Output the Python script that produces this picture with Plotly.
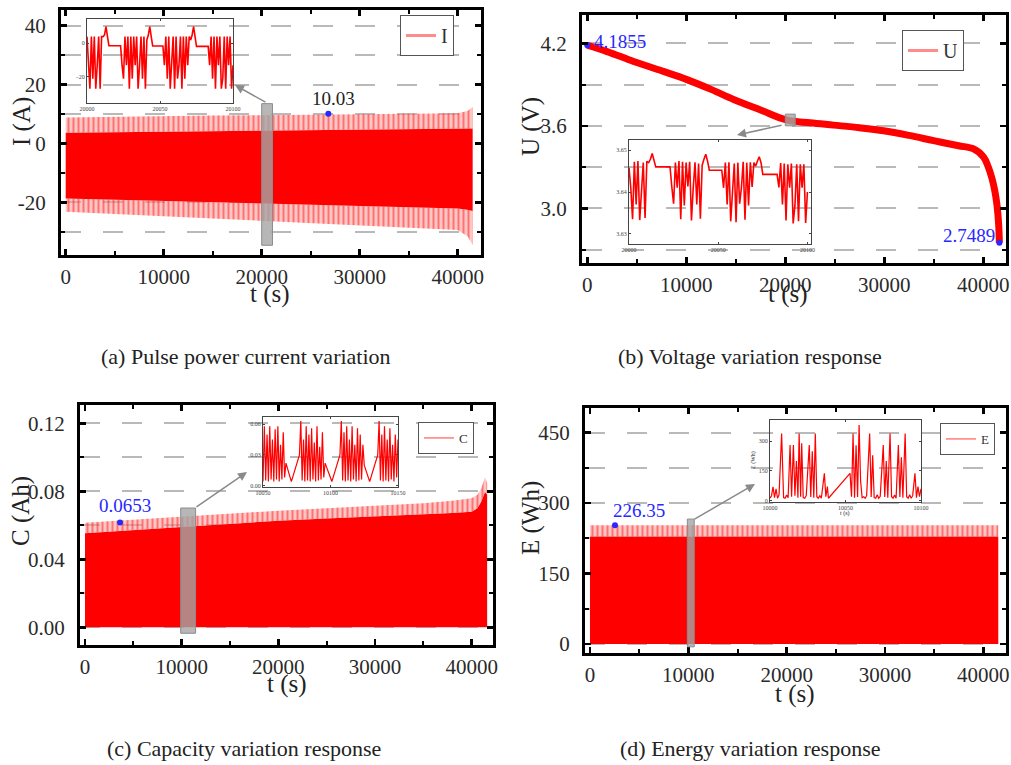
import plotly.graph_objects as go

W, H = 1011, 765
SERIF = "Liberation Serif"
RED = "rgb(255,0,0)"
PINK = "rgba(255,110,110,0.55)"
BLUE = "rgb(40,40,255)"

# ---------------- data ----------------
# (a) pulse current: envelope of the dense signal
t_env_a = [0, 5000, 10000, 15000, 20000, 25000, 30000, 35000, 40000, 41000, 41530]
i_outer_top = [8.8, 9.1, 9.3, 9.5, 9.6, 9.8, 9.9, 10.0, 10.2, 11.0, 12.4]
i_core_top = [3.6, 3.8, 4.0, 4.2, 4.3, 4.5, 4.7, 4.9, 5.0, 5.1, 5.1]
i_core_bot = [-18.7, -19.1, -19.6, -20.0, -20.4, -20.8, -21.2, -21.6, -22.1, -22.5, -23.0]
i_outer_bot = [-23.2, -24.0, -24.8, -25.6, -26.3, -27.0, -27.8, -28.6, -29.4, -31.5, -34.5]
i_mark_t, i_mark_v = [26800], [10.03]
i_ticks = [-20, 0, 20, 40]
i_ticktext = ["-20", "0", "20", "40"]

# (b) voltage
t_u = [0, 2000, 4680, 7500, 10070, 12500, 14780, 17500, 20100, 22500, 24880, 27500,
       29930, 32500, 34980, 37500, 39020, 40030, 40500, 40880, 41150, 41380, 41550, 41620]
u_vals = [4.186, 4.14, 4.068, 4.00, 3.936, 3.865, 3.792, 3.715, 3.643, 3.622, 3.605, 3.586,
          3.564, 3.530, 3.492, 3.455, 3.432, 3.372, 3.30, 3.216, 3.13, 3.024, 2.88, 2.749]
u_mark_t, u_mark_v = [0, 41620], [4.1855, 2.7489]

# (c) capacity envelope
t_env_c = [0, 5000, 10000, 15000, 20000, 25000, 30000, 35000, 38000, 40000, 40600, 41000, 41380, 41600]
c_core_top = [0.0553, 0.0572, 0.0590, 0.0609, 0.0627, 0.0640, 0.0652, 0.0663, 0.0672, 0.0680,
              0.0700, 0.0740, 0.0796, 0.0780]
c_outer_top = [0.0615, 0.0633, 0.0650, 0.0668, 0.0686, 0.0700, 0.0715, 0.0730, 0.0745, 0.0759,
               0.0780, 0.0820, 0.0883, 0.0850]
c_mark_t, c_mark_v = [3620], [0.0616]

# (d) energy envelope
t_env_d = [0, 20000, 41520]
e_core_top = [229, 229, 229]
e_outer_top = [253, 253, 253]
e_mark_t, e_mark_v = [2540], [253]

# zoom windows (grey boxes) : [t0, t1, v0, v1]
win_a = [20000, 21100, -34.6, 13.5]
win_b = [20000, 21000, 3.60, 3.685]
win_c = [9900, 11440, -0.0035, 0.0702]
win_d = [9900, 10600, -6, 266]

# inset (a): current, 1 s samples from t = 20000
ins_a_i = [4, -13, -27, 4, -21, 4, -27, -13, 4, -27, 4,
           4, 5, 10, 4,
           -1.4, -1.4, -1.4, -1.4, -1.4, -1.4, -1.4, -1.4, -1.4,
           -13, -21, 4, -13, 4, -27, 4, -21, 4, -13, 4, -27, -13, 4, -21, 4, -27,
           2, 5, 10, 4,
           -1.6, -1.6, -1.6, -1.6, -1.6, -1.6, -1.6, -1.6,
           -13, 4, -21, 4, -27, -13, 4, -27, 4, -21, -13, 4, -27, 4, -21, 4, -13, 4,
           2, 5, 10, 4,
           -1.8, -1.8, -1.8, -1.8, -1.8, -1.8, -1.8, -1.8, -1.8,
           -13, 4, -21, 4, -27, 4, -13, 4, -27, -21, 4, -27, 4, -13, 4, -27, -13]

# inset (b): voltage, 1 s samples from t = 20000
ins_b_u = [3.6458, 3.6410, 3.6335, 3.6472, 3.6370, 3.6474, 3.6333, 3.6414, 3.6470, 3.6338, 3.6473,
           3.6470, 3.6478, 3.6492, 3.6476,
           3.6460, 3.6460, 3.6460, 3.6460, 3.6460, 3.6460, 3.6460, 3.6460, 3.6460,
           3.6412, 3.6372, 3.6470, 3.6410, 3.6474, 3.6335, 3.6472, 3.6368, 3.6470, 3.6413,
           3.6472, 3.6332, 3.6410, 3.6471, 3.6370, 3.6468, 3.6336,
           3.6464, 3.6478, 3.6490, 3.6474,
           3.6452, 3.6452, 3.6452, 3.6452, 3.6452, 3.6452, 3.6452, 3.6452,
           3.6410, 3.6470, 3.6370, 3.6471, 3.6330, 3.6412, 3.6468, 3.6328, 3.6470, 3.6372,
           3.6410, 3.6472, 3.6334, 3.6470, 3.6368, 3.6471, 3.6412, 3.6470,
           3.6462, 3.6474, 3.6484, 3.6470,
           3.6442, 3.6442, 3.6442, 3.6442, 3.6442, 3.6442, 3.6442, 3.6442, 3.6442,
           3.6411, 3.6469, 3.6370, 3.6468, 3.6332, 3.6466, 3.6410, 3.6468, 3.6325, 3.6368,
           3.6466, 3.6330, 3.6466, 3.6410, 3.6466, 3.6326, 3.6400]

# inset (c): capacity
ins_c_t = [10050, 10051, 10052, 10053, 10054, 10055, 10056, 10057, 10058, 10059, 10060, 10061,
           10062, 10063, 10064, 10065, 10066, 10067, 10071, 10077,
           10078, 10079, 10080, 10081, 10082, 10083, 10084, 10085, 10086, 10087, 10088, 10089,
           10090, 10091, 10092, 10093, 10094, 10095, 10096, 10101, 10107,
           10108, 10109, 10110, 10111, 10112, 10113, 10114, 10115, 10116, 10117, 10118, 10119,
           10120, 10121, 10122, 10123, 10124, 10125, 10129, 10135,
           10136, 10137, 10138, 10139, 10140, 10141, 10142, 10143, 10144, 10145, 10146, 10147,
           10148, 10149, 10150]
ins_c_v = [0.004, 0.058, 0.005, 0.050, 0.004, 0.058, 0.006, 0.045, 0.004, 0.055, 0.006, 0.058,
           0.004, 0.040, 0.006, 0.052, 0.008, 0.022, 0.004, 0.030,
           0.063, 0.005, 0.045, 0.004, 0.058, 0.005, 0.050, 0.004, 0.056, 0.006, 0.042, 0.004,
           0.058, 0.005, 0.038, 0.006, 0.052, 0.008, 0.022, 0.004, 0.030,
           0.063, 0.005, 0.052, 0.004, 0.058, 0.005, 0.045, 0.004, 0.058, 0.006, 0.040, 0.004,
           0.056, 0.005, 0.050, 0.006, 0.040, 0.020, 0.004, 0.030,
           0.063, 0.005, 0.050, 0.004, 0.058, 0.005, 0.045, 0.004, 0.056, 0.006, 0.040, 0.004,
           0.050, 0.008, 0.045]

# inset (d): energy
ins_d_t = [10000, 10001, 10002, 10003, 10004, 10005, 10006, 10007.7, 10009, 10010, 10011, 10012,
           10013.3, 10014.3, 10015.5, 10016.5, 10017.5, 10018.5, 10019.3, 10020.3, 10021, 10022,
           10023, 10024, 10026, 10027, 10028, 10029, 10030, 10031, 10032, 10033, 10034,
           10036, 10037, 10038, 10038.7,
           10053, 10054, 10055, 10056, 10057, 10058, 10059, 10060, 10061, 10062, 10063, 10064,
           10066, 10067, 10068, 10069, 10070, 10071, 10072, 10073,
           10075, 10076, 10077, 10078, 10079.5, 10080.5, 10081.5, 10082.5, 10083.5,
           10085, 10086, 10087, 10088, 10089.5, 10090.5, 10091.5, 10092.5, 10093.5, 10094.5,
           10096, 10097, 10098, 10099, 10100]
ins_d_v = [12, 25, 70, 15, 60, 12, 30, 340, 15, 12, 28, 15,
           281, 20, 281, 25, 200, 15, 340, 20, 290, 15,
           12, 25, 281, 18, 250, 15, 340, 20, 12, 25, 12,
           138, 20, 71, 12,
           138, 20, 340, 15, 280, 18, 383, 100, 15, 20, 12, 25,
           340, 18, 230, 15, 12, 30, 12, 22,
           281, 18, 200, 15, 340, 20, 12, 28, 12,
           281, 18, 220, 15, 340, 20, 12, 30, 12, 25,
           138, 15, 71, 20, 60]

# ---------------- layout helpers ----------------
def xd(p0, p1):
    return [p0 / W, p1 / W]


def yd(top, bot):
    return [1 - bot / H, 1 - top / H]


TICKFONT = dict(family=SERIF, size=21, color="#2a2a2a")


def main_x(dom, rng, anchor):
    return dict(domain=dom, range=rng, anchor=anchor, showline=True, linecolor="black",
                linewidth=3, mirror="allticks", ticks="inside", ticklen=6, tickwidth=2.5,
                tickcolor="black", tick0=0, dtick=10000, tickformat="d", showgrid=False,
                zeroline=False, automargin=False,
                minor=dict(dtick=5000, ticks="inside", ticklen=4, tickwidth=2, tickcolor="black"),
                tickfont=TICKFONT, ticklabelstandoff=1)


GRID = dict(gridcolor="#b9b9b9", gridwidth=2, griddash="20px,22px")


def main_y(dom, rng, anchor, tick0, dtick, mdtick, fmt, tickvals=None, ticktext=None):
    d = dict(domain=dom, range=rng, anchor=anchor, showline=True, linecolor="black",
             linewidth=3, mirror="allticks", ticks="inside", ticklen=6, tickwidth=2.5,
             tickcolor="black", tick0=tick0, dtick=dtick, zeroline=False, automargin=False,
             showgrid=True, **GRID,
             minor=dict(tick0=tick0, dtick=mdtick, ticks="inside", ticklen=4, tickwidth=2,
                        tickcolor="black", showgrid=True, **GRID),
             tickfont=TICKFONT, ticklabelstandoff=8)
    if fmt:
        d["tickformat"] = fmt
    if tickvals:
        d["tickmode"] = "array"
        d["tickvals"] = tickvals
        d["ticktext"] = ticktext
    return d


def ins_axis(dom, rng, anchor, tickvals, fmt="d"):
    return dict(domain=dom, range=rng, anchor=anchor, showline=True, linecolor="#444",
                linewidth=1, mirror="ticks", ticks="inside", ticklen=2, tickwidth=1,
                tickcolor="#444", tickvals=tickvals, tickformat=fmt, showgrid=False,
                zeroline=False, automargin=False,
                tickfont=dict(family=SERIF, size=6, color="#444"), ticklabelstandoff=0)


fig = go.Figure()


def band(x, y, ax, fill=None, color=None, pattern=False):
    kw = dict(x=x, y=y, mode="lines", line=dict(width=0, color=RED), xaxis=ax[0], yaxis=ax[1],
              showlegend=False, hoverinfo="skip")
    if fill:
        kw["fill"] = fill
        kw["fillcolor"] = color
        if pattern:
            kw["fillpattern"] = dict(shape="|", fgcolor="rgba(255,0,0,0.85)",
                                     bgcolor="rgba(255,150,150,0.55)", size=5, solidity=0.4)
    fig.add_trace(go.Scatter(**kw))


# (a)
band(t_env_a, i_outer_bot, ("x", "y"))
band(t_env_a, i_core_bot, ("x", "y"), "tonexty", PINK, True)
band(t_env_a, i_core_top, ("x", "y"), "tonexty", RED)
band(t_env_a, i_outer_top, ("x", "y"), "tonexty", PINK, True)
fig.add_trace(go.Scatter(x=i_mark_t, y=i_mark_v, mode="markers", marker=dict(color=BLUE, size=6),
                         xaxis="x", yaxis="y", showlegend=False))

# (b)
fig.add_trace(go.Scatter(x=t_u, y=u_vals, mode="lines", line=dict(color=RED, width=7),
                         line_shape="spline", xaxis="x2", yaxis="y2", showlegend=False))
fig.add_trace(go.Scatter(x=u_mark_t, y=u_mark_v, mode="markers", marker=dict(color=BLUE, size=6),
                         xaxis="x2", yaxis="y2", showlegend=False))

# (c)
band(t_env_c, c_core_top, ("x3", "y3"), "tozeroy", RED)
band(t_env_c, c_outer_top, ("x3", "y3"), "tonexty", PINK, True)
fig.add_trace(go.Scatter(x=c_mark_t, y=c_mark_v, mode="markers", marker=dict(color=BLUE, size=6),
                         xaxis="x3", yaxis="y3", showlegend=False))

# (d)
band(t_env_d, e_core_top, ("x4", "y4"), "tozeroy", RED)
band(t_env_d, e_outer_top, ("x4", "y4"), "tonexty", PINK, True)
fig.add_trace(go.Scatter(x=e_mark_t, y=e_mark_v, mode="markers", marker=dict(color=BLUE, size=6),
                         xaxis="x4", yaxis="y4", showlegend=False))

# insets
ins_a_t = [20000 + k for k in range(len(ins_a_i))]
ins_b_t = [20000 + k for k in range(len(ins_b_u))]
fig.add_trace(go.Scatter(x=ins_a_t, y=ins_a_i, mode="lines", line=dict(color=RED, width=1.6),
                         xaxis="x5", yaxis="y5", showlegend=False))
fig.add_trace(go.Scatter(x=ins_b_t, y=ins_b_u, mode="lines", line=dict(color=RED, width=1.6),
                         xaxis="x6", yaxis="y6", showlegend=False))
fig.add_trace(go.Scatter(x=ins_c_t, y=ins_c_v, mode="lines", line=dict(color=RED, width=1.2),
                         xaxis="x7", yaxis="y7", showlegend=False))
fig.add_trace(go.Scatter(x=ins_d_t, y=ins_d_v, mode="lines", line=dict(color=RED, width=1.2),
                         xaxis="x8", yaxis="y8", showlegend=False))

# legend entries
for name, lg, ax, col, wd in [("I", "legend", ("x", "y"), "rgb(255,140,140)", 3),
                              ("U", "legend2", ("x2", "y2"), "rgb(255,140,140)", 3),
                              ("C", "legend3", ("x3", "y3"), "rgb(255,60,60)", 1),
                              ("E", "legend4", ("x4", "y4"), "rgb(255,60,60)", 1)]:
    fig.add_trace(go.Scatter(x=[None], y=[None], mode="lines", name=name, legend=lg,
                             line=dict(color=col, width=wd), xaxis=ax[0], yaxis=ax[1]))

# axes boxes in pixels (left, top, right, bottom)
A = (61, 10, 481, 255)
B = (582, 15, 1006, 263)
C = (80, 405, 493, 645)
D = (585, 408, 1006, 653)
IA = (87, 19, 233, 103)
IB = (629, 140, 811, 244)
IC = (263, 417, 398, 487)
ID = (770, 420, 921, 502)

lay = dict(
    xaxis=main_x(xd(A[0], A[2]), [-480, 42380], "y"),
    yaxis=main_y(yd(A[1], A[3]), [-37.9, 45.3], "x", 0, 20, 10, None, i_ticks, i_ticktext),
    xaxis2=main_x(xd(B[0], B[2]), [-535, 42290], "y2"),
    yaxis2=main_y(yd(B[1], B[3]), [2.602, 4.406], "x2", 3.0, 0.6, 0.3, ".1f"),
    xaxis3=main_x(xd(C[0], C[2]), [-517, 42206], "y3"),
    yaxis3=main_y(yd(C[1], C[3]), [-0.0104, 0.1308], "x3", 0, 0.04, 0.02, ".2f"),
    xaxis4=main_x(xd(D[0], D[2]), [-508, 42305], "y4"),
    yaxis4=main_y(yd(D[1], D[3]), [-19.2, 502.6], "x4", 0, 150, 75, "d"),
    xaxis5=ins_axis(xd(IA[0], IA[2]), [20000, 20100], "y5", [20000, 20050, 20100]),
    yaxis5=ins_axis(yd(IA[1], IA[3]), [-35.5, 14.5], "x5", [-20, 0]),
    xaxis6=ins_axis(xd(IB[0], IB[2]), [20000, 20102], "y6", [20000, 20050, 20100]),
    yaxis6=ins_axis(yd(IB[1], IB[3]), [3.6276, 3.6524], "x6", [3.63, 3.64, 3.65], ".2f"),
    xaxis7=ins_axis(xd(IC[0], IC[2]), [10050, 10150], "y7", [10050, 10100, 10150]),
    yaxis7=ins_axis(yd(IC[1], IC[3]), [-0.0013, 0.067], "x7", [0, 0.03, 0.06], ".2f"),
    xaxis8=ins_axis(xd(ID[0], ID[2]), [10000, 10100], "y8", [10000, 10050, 10100]),
    yaxis8=ins_axis(yd(ID[1], ID[3]), [-7, 408], "x8", [0, 150, 300]),
)

leg_common = dict(bgcolor="white", bordercolor="#555", borderwidth=1, xanchor="left",
                  yanchor="top", itemwidth=30, tracegroupgap=0)
lay["legend"] = dict(x=400 / W, y=1 - 15 / H, font=dict(family=SERIF, size=20, color="#333"),
                     **leg_common)
lay["legend2"] = dict(x=902 / W, y=1 - 30 / H, font=dict(family=SERIF, size=20, color="#333"),
                      **leg_common)
lay["legend3"] = dict(x=418 / W, y=1 - 422 / H, font=dict(family=SERIF, size=13, color="#333"),
                      **leg_common)
lay["legend4"] = dict(x=940 / W, y=1 - 423 / H, font=dict(family=SERIF, size=13, color="#333"),
                      **leg_common)

fig.update_layout(width=W, height=H,
                  margin=dict(l=0, r=0, t=0, b=0, pad=0, autoexpand=False),
                  paper_bgcolor="white", plot_bgcolor="rgba(0,0,0,0)", **lay)

# grey zoom boxes
for win, xr, yr in [(win_a, "x", "y"), (win_b, "x2", "y2"), (win_c, "x3", "y3"), (win_d, "x4", "y4")]:
    fig.add_shape(type="rect", xref=xr, yref=yr, x0=win[0], x1=win[1], y0=win[2], y1=win[3],
                  fillcolor="rgba(165,165,165,0.8)", line=dict(color="rgba(140,140,140,1)", width=1),
                  layer="above")

# arrows (head at inset, tail at zoom box)
arrows = [("x", "y", 17276, 19.8, 20540, 13.7),
          ("x2", "y2", 15120, 3.533, 19770, 3.606),
          ("x3", "y3", 16760, 0.0914, 11380, 0.0702),
          ("x4", "y4", 16780, 340.7, 10475, 264)]
for xr, yr, hx, hy, tx, ty in arrows:
    fig.add_annotation(x=hx, y=hy, ax=tx, ay=ty, xref=xr, yref=yr, axref=xr, ayref=yr,
                       showarrow=True, arrowhead=2, arrowsize=1.2, arrowwidth=1.5,
                       arrowcolor="#8a8a8a", text="")


# value labels
def label(text, x, y, xr, yr, color, size=19, xanchor="center"):
    fig.add_annotation(x=x, y=y, xref=xr, yref=yr, text=text, showarrow=False,
                       font=dict(family=SERIF, size=size, color=color), xanchor=xanchor,
                       yanchor="middle")


label("10.03", 27300, 15.2, "x", "y", "#222")
label("4.1855", 500, 4.21, "x2", "y2", BLUE, xanchor="left")
label("2.7489", 41400, 2.80, "x2", "y2", BLUE, xanchor="right")
label("0.0653", 4100, 0.0717, "x3", "y3", BLUE)
label("226.35", 5000, 285, "x4", "y4", BLUE)


# axis titles and captions (paper coords)
def ptext(text, px, py, size, angle=0):
    fig.add_annotation(x=px / W, y=1 - py / H, xref="paper", yref="paper", text=text,
                       showarrow=False, textangle=angle, xanchor="center", yanchor="middle",
                       font=dict(family=SERIF, size=size, color="#222"))


ptext("I (A)", 22, 122, 25, -90)
ptext("t (s)", 270, 294, 25)
ptext("U (V)", 531, 127, 25, -90)
ptext("t (s)", 788, 294, 25)
ptext("C (Ah)", 21, 511, 25, -90)
ptext("t (s)", 287, 684, 25)
ptext("E (Wh)", 531, 518, 25, -90)
ptext("t (s)", 795, 694, 25)

ptext("(a) Pulse power current variation", 246, 356, 22)
ptext("(b) Voltage variation response", 750, 356, 22)
ptext("(c) Capacity variation response", 244, 748, 22)
ptext("(d) Energy variation response", 750, 748, 22)

# tiny inset axis titles for (d)
ptext("E (Wh)", 753, 460, 6, -90)
ptext("t (s)", 845, 513, 6)

fig.write_html("out.html",
               config={"displayModeBar": False, "staticPlot": True},
               post_script="document.body.style.margin='0';document.body.style.overflow='hidden';")
